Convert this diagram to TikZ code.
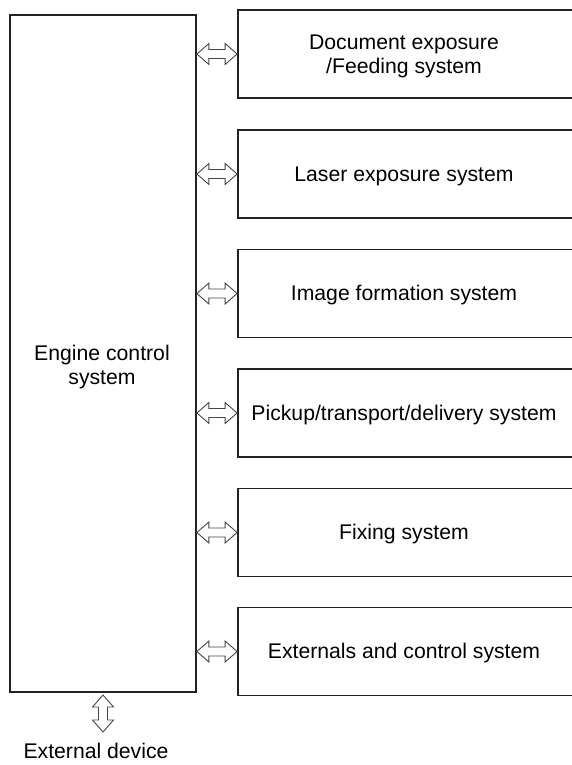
\documentclass[tikz,border=0pt]{standalone}
\usepackage{fontspec}
\setmainfont{Liberation Sans}
\usetikzlibrary{calc}
\definecolor{frameGray}{RGB}{35, 35, 35}
\definecolor{arrowGray}{RGB}{70, 70, 70}

\tikzset{
  sysbox/.style={draw=frameGray, line width=1.8pt, minimum width=340pt, minimum height=88pt, inner sep=0pt},
  syslabel/.style={align=center, font=\fontsize{21.2}{24}\selectfont, inner sep=0pt},
  biarrow/.style={draw=arrowGray, line width=0.9pt, fill=white, line join=miter}
}

% hollow double arrow, horizontal and vertical
\newcommand{\harrow}[2]{%
  \draw[biarrow] (#1) -- ++(12,-10.5) -- ++(0,6) -- ($(#2)+(-12,-4.5)$) -- ++(0,-6) -- (#2)
    -- ++(-12,10.5) -- ++(0,-6) -- ($(#1)+(12,4.5)$) -- ++(0,6) -- cycle;}
\newcommand{\varrow}[2]{%
  \draw[biarrow] (#1) -- ++(-10.5,12) -- ++(6,0) -- ($(#2)+(-4.5,-12)$) -- ++(-6,0) -- (#2)
    -- ++(10.5,-12) -- ++(-6,0) -- ($(#1)+(4.5,12)$) -- ++(6,0) -- cycle;}

\begin{document}
\begin{tikzpicture}[x=1pt, y=-1pt]
  \useasboundingbox (0,0) rectangle (572,765);

  % engine control block
  \node[draw=frameGray, line width=1.8pt, minimum width=186pt, minimum height=677pt, inner sep=0pt] (eng) at (103,353.5) {};
  \node[syslabel] (engtxt) at (102,367) {Engine control\\system};

  % subsystems
  \foreach \name/\y/\txt in {doc/54/{Document exposure\\/Feeding system},
                             laser/174/{Laser exposure system},
                             image/293.5/{Image formation system},
                             pickup/413/{Pickup/transport/delivery system},
                             fix/532.5/{Fixing system},
                             ext/651.5/{Externals and control system}} {
    \node[sysbox] (\name) at (408,\y) {};
    \node[syslabel] (\name txt) at (404,\y+2) {\txt};
    \coordinate (\name in) at (eng.east |- \name.west);
    \harrow{\name in}{\name.west}
  }

  % external device
  \node[syslabel] (dev) at (96,751) {External device};
  \coordinate (devtop) at (103,695);
  \coordinate (devbot) at (103,732);
  \varrow{devtop}{devbot}
\end{tikzpicture}
\end{document}
